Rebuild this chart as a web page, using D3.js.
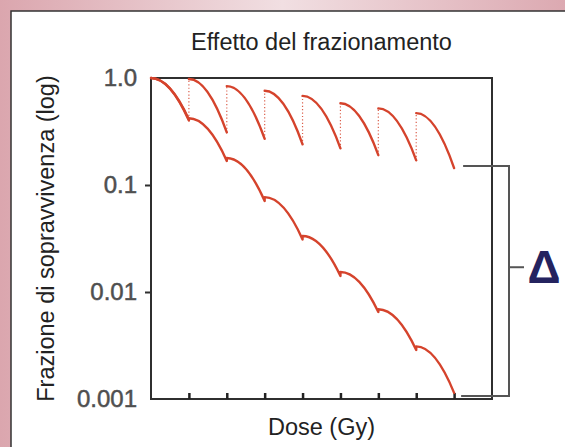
<!DOCTYPE html>
<html>
<head>
<meta charset="utf-8">
<script src="https://cdn.jsdelivr.net/npm/d3@7"></script>
<style>
  html, body { margin: 0; padding: 0; background: #fff; }
  svg { display: block; }
  text { font-family: "Liberation Sans", Arial, Helvetica, sans-serif; }
</style>
</head>
<body>
<svg id="chart" width="565" height="447"></svg>
<script>
// dose at the start of each fraction (Gy)
const fractionDoses = [0, 2, 4, 6, 8, 10, 12, 14, 16];
const doseTicks = [2, 4, 6, 8, 10, 12, 14, 16];
const survivalTicks = [1, 0.1, 0.01, 0.001];
const survivalTickLabels = ["1.0", "0.1", "0.01", "0.001"];

// upper sawtooth: survival at start / end of each fraction
const upperStart = [1.0, 0.98, 0.84, 0.76, 0.68, 0.58, 0.52, 0.47];
const upperEnd = [0.41, 0.31, 0.27, 0.24, 0.22, 0.19, 0.17, 0.144];

// lower curve: survival at start / end of each fraction
const lowerStart = [1.0, 0.42, 0.179, 0.077, 0.0334, 0.0154, 0.0069, 0.0031];
const lowerEnd = [0.40, 0.168, 0.071, 0.031, 0.0141, 0.0065, 0.00287, 0.00114];

const titleText = "Effetto del frazionamento";
const xLabelText = "Dose (Gy)";
const yLabelText = "Frazione di sopravvivenza (log)";

const width = 565;
const height = 447;
const plot = { left: 151, right: 492, top: 78, bottom: 399 };
const curveColor = "#d5432c";
const axisColor = "#2f2f2f";

const svg = d3.select("#chart");

const x = d3.scaleLinear().domain([0, 18]).range([plot.left, plot.right]);
const y = d3.scaleLog().domain([0.001, 1]).range([plot.bottom, plot.top]);

drawFrame();
drawAxes();
drawCurves();
drawBracket();
drawTexts();

function drawFrame() {
  const defs = svg.append("defs");
  const grad = defs.append("linearGradient")
    .attr("id", "pink")
    .attr("x1", "0%").attr("x2", "100%")
    .attr("y1", "0%").attr("y2", "0%");
  grad.append("stop").attr("offset", "0%").attr("stop-color", "#dba6ae");
  grad.append("stop").attr("offset", "50%").attr("stop-color", "#f1dfe2");
  grad.append("stop").attr("offset", "100%").attr("stop-color", "#dca9b1");

  svg.append("rect")
    .attr("width", width).attr("height", height)
    .attr("fill", "url(#pink)");

  svg.append("rect")
    .attr("x", 11).attr("y", 11)
    .attr("width", width - 11).attr("height", height - 11)
    .attr("fill", "#fff");

  svg.append("path")
    .attr("d", `M11,${height} L11,11 L${width},11`)
    .attr("fill", "none")
    .attr("stroke", "#333")
    .attr("stroke-width", 1.5);
}

function drawAxes() {
  // plot box
  svg.append("rect")
    .attr("x", plot.left).attr("y", plot.top)
    .attr("width", plot.right - plot.left)
    .attr("height", plot.bottom - plot.top)
    .attr("fill", "none")
    .attr("stroke", axisColor)
    .attr("stroke-width", 2);

  const xAxis = d3.axisBottom(x)
    .tickValues(doseTicks)
    .tickSize(-6)
    .tickFormat("");

  const gx = svg.append("g")
    .attr("transform", `translate(0,${plot.bottom})`)
    .call(xAxis);
  gx.select(".domain").remove();
  gx.selectAll(".tick line")
    .attr("stroke", "#222")
    .attr("stroke-width", 2.5);

  const yAxis = d3.axisLeft(y)
    .tickValues(survivalTicks)
    .tickSize(6)
    .tickPadding(8)
    .tickFormat((d, i) => survivalTickLabels[i]);

  const gy = svg.append("g")
    .attr("transform", `translate(${plot.left},0)`)
    .call(yAxis);
  gy.select(".domain").remove();
  gy.selectAll(".tick line")
    .attr("stroke", axisColor)
    .attr("stroke-width", 2)
    .attr("opacity", (d) => (d === 1 || d === 0.001) ? 0 : 1);
  gy.selectAll(".tick text")
    .attr("font-family", "'Liberation Sans', Arial, sans-serif")
    .attr("font-size", 24)
    .attr("fill", "#4f4f4f")
    .attr("stroke", "#4f4f4f")
    .attr("stroke-width", 0.5);
}

function arcTo(ctx, x0, y0, x1, y1) {
  // shouldered arc: flat start, steep end
  ctx.quadraticCurveTo(x0 + (x1 - x0) * 0.5, y0, x1, y1);
}

function drawCurves() {
  const g = svg.append("g");

  // upper sawtooth arcs
  const upper = d3.path();
  upperStart.forEach((s, i) => {
    const x0 = x(fractionDoses[i]);
    const x1 = x(fractionDoses[i + 1]);
    upper.moveTo(x0, y(s));
    arcTo(upper, x0, y(s), x1, y(upperEnd[i]));
  });

  // dotted recovery jumps
  const jumps = d3.path();
  for (let i = 0; i < upperStart.length - 1; i++) {
    const xj = x(fractionDoses[i + 1]);
    jumps.moveTo(xj, y(upperEnd[i]));
    jumps.lineTo(xj, y(upperStart[i + 1]));
  }

  g.append("path")
    .attr("d", jumps.toString())
    .attr("fill", "none")
    .attr("stroke", curveColor)
    .attr("stroke-width", 1.2)
    .attr("stroke-dasharray", "1.2,2.2")
    .attr("opacity", 0.85);

  // lower continuous curve
  const lower = d3.path();
  lowerStart.forEach((s, i) => {
    const x0 = x(fractionDoses[i]);
    const x1 = x(fractionDoses[i + 1]);
    if (i === 0) lower.moveTo(x0, y(s));
    else lower.lineTo(x0, y(s));
    arcTo(lower, x0, y(s), x1, y(lowerEnd[i]));
  });

  g.append("path")
    .attr("d", upper.toString())
    .attr("fill", "none")
    .attr("stroke", curveColor)
    .attr("stroke-width", 2.4)
    .attr("stroke-linecap", "round");

  g.append("path")
    .attr("d", lower.toString())
    .attr("fill", "none")
    .attr("stroke", curveColor)
    .attr("stroke-width", 2.4)
    .attr("stroke-linecap", "round")
    .attr("stroke-linejoin", "round");
}

function drawBracket() {
  const last = upperEnd.length - 1;
  const xEnd = x(fractionDoses[last + 1]);
  const top = y(upperEnd[last]) - 2;
  const bottom = plot.bottom - 3;
  const bx = 509;
  const midY = top + (bottom - top) * 0.44;

  svg.append("path")
    .attr("d", `M${xEnd + 9},${top} H${bx} V${bottom} H${xEnd + 7}`)
    .attr("fill", "none")
    .attr("stroke", "#555")
    .attr("stroke-width", 2);

  svg.append("line")
    .attr("x1", bx).attr("x2", bx + 15)
    .attr("y1", midY).attr("y2", midY)
    .attr("stroke", "#555")
    .attr("stroke-width", 2);

  svg.append("text")
    .attr("x", 544)
    .attr("y", midY + 16)
    .attr("text-anchor", "middle")
    .attr("font-size", 46)
    .attr("font-weight", "bold")
    .attr("fill", "#24235f")
    .text("Δ");
}

function drawTexts() {
  const cx = (plot.left + plot.right) / 2;

  svg.append("text")
    .attr("x", cx)
    .attr("y", 50)
    .attr("text-anchor", "middle")
    .attr("font-size", 23.5)
    .attr("fill", "#222")
    .text(titleText);

  svg.append("text")
    .attr("x", cx)
    .attr("y", 435)
    .attr("text-anchor", "middle")
    .attr("font-size", 23.5)
    .attr("fill", "#222")
    .text(xLabelText);

  svg.append("text")
    .attr("transform", `translate(54,${(plot.top + plot.bottom) / 2}) rotate(-90)`)
    .attr("text-anchor", "middle")
    .attr("font-size", 23.5)
    .attr("fill", "#222")
    .text(yLabelText);
}
</script>
</body>
</html>
